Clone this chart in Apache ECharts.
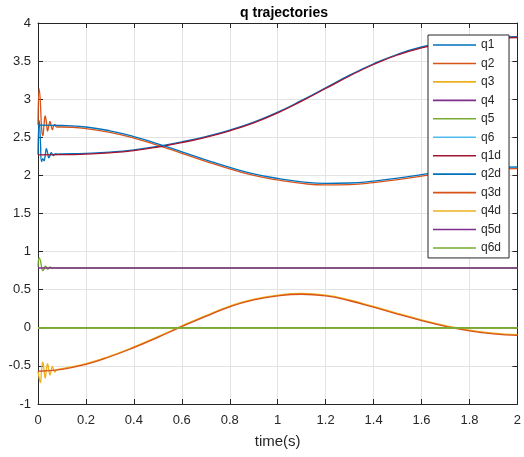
<!DOCTYPE html>
<html>
<head>
<meta charset="utf-8">
<script src="https://cdn.jsdelivr.net/npm/echarts@6/dist/echarts.min.js"></script>
<style>
  html, body { margin: 0; padding: 0; background: #fff; }
  #chart { width: 524px; height: 457px; }
</style>
</head>
<body>
<div id="chart"></div>
<script>
// Joint trajectories: measured q1..q6 and desired q1d..q6d over time (s)
const seriesNames = ['q1', 'q2', 'q3', 'q4', 'q5', 'q6', 'q1d', 'q2d', 'q3d', 'q4d', 'q5d', 'q6d'];
const xTicks = [0, 0.2, 0.4, 0.6, 0.8, 1, 1.2, 1.4, 1.6, 1.8, 2];
const yTicks = [-1, -0.5, 0, 0.5, 1, 1.5, 2, 2.5, 3, 3.5, 4];

// main time grid
const time = [0, 0.1, 0.2, 0.3, 0.4, 0.5, 0.6, 0.7, 0.8, 0.9, 1.0,
              1.1, 1.2, 1.3, 1.4, 1.5, 1.6, 1.7, 1.8, 1.9, 2.0];

// desired trajectories
const q1d = [2.27, 2.272, 2.28, 2.296, 2.326, 2.372, 2.43, 2.50, 2.585, 2.69, 2.82,
             2.975, 3.14, 3.305, 3.455, 3.58, 3.675, 3.74, 3.783, 3.803, 3.81];
const q2d = [2.66, 2.655, 2.635, 2.585, 2.51, 2.415, 2.31, 2.205, 2.105, 2.02, 1.96,
             1.915, 1.895, 1.90, 1.925, 1.965, 2.01, 2.055, 2.09, 2.105, 2.11];
const q3d = [-0.57, -0.545, -0.48, -0.38, -0.26, -0.125, 0.015, 0.15, 0.275, 0.365, 0.42,
             0.44, 0.42, 0.355, 0.27, 0.18, 0.095, 0.02, -0.04, -0.08, -0.10];
const q4d = [0, 0, 0, 0, 0, 0, 0, 0, 0, 0, 0, 0, 0, 0, 0, 0, 0, 0, 0, 0, 0];
const q5d = [0.785, 0.785, 0.785, 0.785, 0.785, 0.785, 0.785, 0.785, 0.785, 0.785, 0.785,
             0.785, 0.785, 0.785, 0.785, 0.785, 0.785, 0.785, 0.785, 0.785, 0.785];
const q6d = [0, 0, 0, 0, 0, 0, 0, 0, 0, 0, 0, 0, 0, 0, 0, 0, 0, 0, 0, 0, 0];

// measured trajectories (after the start-up transient)
const q1 = [2.28, 2.282, 2.29, 2.306, 2.336, 2.382, 2.44, 2.51, 2.595, 2.70, 2.83,
            2.985, 3.15, 3.315, 3.465, 3.59, 3.685, 3.75, 3.793, 3.813, 3.82];
const q2 = [2.64, 2.635, 2.615, 2.565, 2.49, 2.395, 2.29, 2.185, 2.085, 2.00, 1.94,
            1.895, 1.875, 1.88, 1.905, 1.945, 1.99, 2.035, 2.07, 2.085, 2.09];
const q3 = [-0.56, -0.535, -0.47, -0.37, -0.25, -0.115, 0.025, 0.16, 0.285, 0.375, 0.43,
            0.45, 0.43, 0.365, 0.28, 0.19, 0.105, 0.03, -0.03, -0.07, -0.09];
const q4 = [0, 0, 0, 0, 0, 0, 0, 0, 0, 0, 0, 0, 0, 0, 0, 0, 0, 0, 0, 0, 0];
const q5 = [0.785, 0.785, 0.785, 0.785, 0.785, 0.785, 0.785, 0.785, 0.785, 0.785, 0.785,
            0.785, 0.785, 0.785, 0.785, 0.785, 0.785, 0.785, 0.785, 0.785, 0.785];
const q6 = [0, 0, 0, 0, 0, 0, 0, 0, 0, 0, 0, 0, 0, 0, 0, 0, 0, 0, 0, 0, 0];

// start-up transient, fine time grid
const startTime = [0, 0.005, 0.01, 0.015, 0.02, 0.025, 0.03, 0.035, 0.04,
                   0.045, 0.05, 0.055, 0.06, 0.065, 0.07, 0.075, 0.08];
const q1Start = [2.27, 2.72, 2.45, 2.18, 2.22, 2.19, 2.26, 2.35, 2.30,
                 2.23, 2.26, 2.30, 2.28, 2.26, 2.28, 2.285, 2.28];
const q2Start = [2.66, 3.14, 2.95, 2.62, 2.52, 2.66, 2.78, 2.70, 2.58,
                 2.65, 2.71, 2.65, 2.60, 2.65, 2.67, 2.64, 2.635];
const q3Start = [-0.57, -0.66, -0.72, -0.55, -0.45, -0.55, -0.66, -0.55, -0.47,
                 -0.55, -0.62, -0.56, -0.51, -0.55, -0.58, -0.56, -0.55];
const q5Start = [0.80, 0.92, 0.88, 0.80, 0.75, 0.77, 0.81, 0.80, 0.77,
                 0.78, 0.80, 0.79, 0.78, 0.785, 0.79, 0.785, 0.785];

const colors = ['#0072BD', '#D95319', '#EDB120', '#7E2F8E', '#77AC30', '#4DBEEE', '#A2142F',
                '#0072BD', '#D95319', '#EDB120', '#7E2F8E', '#77AC30'];
// the last-drawn flat lines sit on top of identical ones; a touch wider so they cover them
const lineWidths = [1.3, 1.3, 1.3, 1.3, 1.3, 1.3, 1.3, 1.3, 1.3, 1.3, 1.6, 1.8];

function pairs(ts, vs) {
  return ts.map(function (t, i) { return [t, vs[i]]; });
}
function withStart(startVals, vals) {
  if (!startVals) return pairs(time, vals);
  return pairs(startTime, startVals).concat(pairs(time.slice(1), vals.slice(1)));
}

const seriesData = [
  withStart(q1Start, q1), withStart(q2Start, q2), withStart(q3Start, q3),
  withStart(null, q4), withStart(q5Start, q5), withStart(null, q6),
  withStart(null, q1d), withStart(null, q2d), withStart(null, q3d),
  withStart(null, q4d), withStart(null, q5d), withStart(null, q6d)
];

const axisColor = '#262626';
const font = 'Liberation Sans, Arial, Helvetica, sans-serif';

const chart = echarts.init(document.getElementById('chart'), null, { renderer: 'canvas' });

const xBase = {
  type: 'value', min: xTicks[0], max: xTicks[xTicks.length - 1], interval: 0.2,
  axisLine: { show: true, onZero: false, lineStyle: { color: axisColor, width: 1 } },
  axisTick: { show: true, inside: true, length: 5, lineStyle: { color: axisColor } }
};
const yBase = {
  type: 'value', min: yTicks[0], max: yTicks[yTicks.length - 1], interval: 0.5,
  axisLine: { show: true, onZero: false, lineStyle: { color: axisColor, width: 1 } },
  axisTick: { show: true, inside: true, length: 5, lineStyle: { color: axisColor } }
};

chart.setOption({
  animation: false,
  backgroundColor: '#ffffff',
  title: {
    text: 'q trajectories',
    left: 279, top: 1, textAlign: 'center',
    textStyle: { fontFamily: font, fontSize: 14, fontWeight: 'bold', color: '#000' }
  },
  grid: { left: 38, right: 4, top: 23, bottom: 53 },
  legend: {
    data: seriesNames,
    orient: 'vertical',
    left: 428, top: 35,
    padding: [3, 8, 3, 5],
    itemGap: 4.45,
    itemWidth: 43, itemHeight: 1.6,
    itemTextGap: 4,
    icon: 'rect',
    backgroundColor: '#ffffff',
    borderColor: axisColor, borderWidth: 1,
    textStyle: { fontFamily: font, fontSize: 12, color: axisColor, lineHeight: 14 }
  },
  xAxis: [
    Object.assign({}, xBase, {
      position: 'bottom',
      name: 'time(s)', nameLocation: 'middle', nameGap: 30,
      nameTextStyle: { fontFamily: font, fontSize: 15, color: axisColor },
      axisLabel: { fontFamily: font, fontSize: 13, color: axisColor, margin: 10 },
      splitLine: { show: true, lineStyle: { color: '#e3e3e3', width: 1 } }
    }),
    Object.assign({}, xBase, {
      position: 'top',
      axisLabel: { show: false },
      splitLine: { show: false }
    })
  ],
  yAxis: [
    Object.assign({}, yBase, {
      position: 'left',
      axisLabel: { fontFamily: font, fontSize: 13, color: axisColor, margin: 7 },
      splitLine: { show: true, lineStyle: { color: '#e3e3e3', width: 1 } }
    }),
    Object.assign({}, yBase, {
      position: 'right',
      axisLabel: { show: false },
      splitLine: { show: false }
    })
  ],
  series: seriesNames.map(function (name, i) {
    return {
      name: name,
      type: 'line',
      xAxisIndex: 0, yAxisIndex: 0,
      data: seriesData[i],
      showSymbol: false,
      smooth: 0.5,
      color: colors[i],
      lineStyle: { color: colors[i], width: lineWidths[i] },
      itemStyle: { color: colors[i] },
      emphasis: { disabled: true }
    };
  })
});
</script>
</body>
</html>
